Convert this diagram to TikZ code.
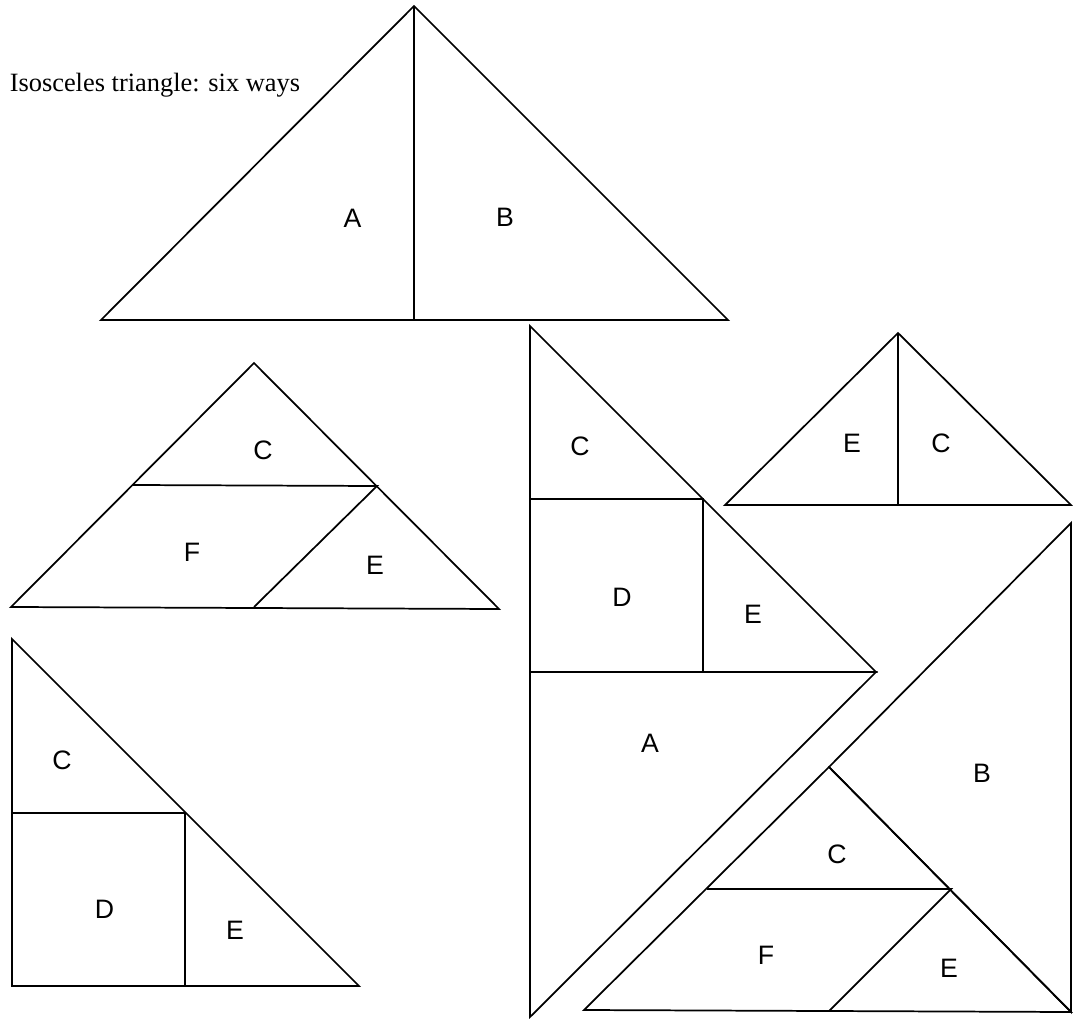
\documentclass[tikz,border=0pt]{standalone}
\usepackage{fontspec}
\setmainfont{Liberation Serif}
\newfontfamily\lblfont{Liberation Sans}
\begin{document}
\begin{tikzpicture}[x=0.75pt,y=-0.75pt,
  piece/.style={draw=black,line width=1.3pt,line join=miter},
  lbl/.style={font=\lblfont\fontsize{20}{24}\selectfont,inner sep=0pt}]
\useasboundingbox (0,0) rectangle (1073,1019);
% title
\node[anchor=base west,inner sep=0pt,font=\fontsize{19.8}{24}\selectfont] (title) at (9.5,92) {Isosceles triangle: six ways};
% figure 1
\draw[piece] (101,320) -- (414,6) -- (728,320) -- cycle;
\draw[piece] (414,6) -- (414,320);
\node[lbl] (a1) at (352.5,218) {A};
\node[lbl] (b1) at (505,217) {B};
% figure 2
\draw[piece] (11,607) -- (254,363) -- (499,609) -- cycle;
\draw[piece] (132,485) -- (377,486) -- (254,607);
\node[lbl] (c2) at (263,450) {C};
\node[lbl] (f2) at (192,552) {F};
\node[lbl] (e2) at (375,565) {E};
% figure 3
\draw[piece] (12,639) -- (12,986) -- (359,986) -- cycle;
\draw[piece] (12,813) -- (185,813) -- (185,986);
\node[lbl] (c3) at (62,760) {C};
\node[lbl] (d3) at (104.5,909.5) {D};
\node[lbl] (e3) at (235,930) {E};
% figure 4: upper left triangle with square
\draw[piece] (530,326) -- (530,672) -- (876,672) -- cycle;
\draw[piece] (530,499) -- (703,499) -- (703,672);
\node[lbl] (c4) at (580,446) {C};
\node[lbl] (d4) at (622,597) {D};
\node[lbl] (e4) at (753,614) {E};
% figure 5: small triangle
\draw[piece] (725,505) -- (898,333) -- (1071,505) -- cycle;
\draw[piece] (898,333) -- (898,505);
\node[lbl] (e5) at (852,443) {E};
\node[lbl] (c5) at (941,443) {C};
% figure 4: A
\draw[piece] (530,672) -- (876,672) -- (530,1017) -- cycle;
\node[lbl] (a4) at (650,743) {A};
% figure 6: B and C/F/E
\draw[piece] (1071,523) -- (1071,1012) -- (829,767) -- cycle;
\node[lbl] (b6) at (982,773) {B};
\draw[piece] (584,1010) -- (829,767) -- (1071,1012) -- cycle;
\draw[piece] (707,889) -- (951,889) -- (829,1011);
\node[lbl] (c6) at (837,854) {C};
\node[lbl] (f6) at (766,955) {F};
\node[lbl] (e6) at (949,968) {E};
\end{tikzpicture}
\end{document}
